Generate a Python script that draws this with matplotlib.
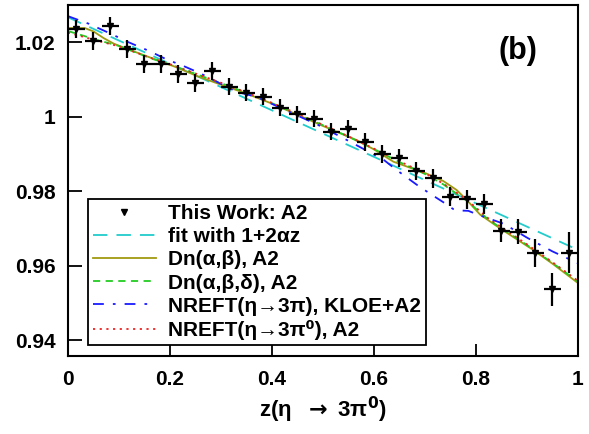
import numpy as np
import matplotlib
matplotlib.use("Agg")
import matplotlib.pyplot as plt

plt.rcParams['font.family'] = ['Liberation Sans', 'DejaVu Sans']
plt.rcParams['font.weight'] = 'bold'
plt.rcParams['mathtext.fontset'] = 'dejavusans'

# measured points (bin centres, 30 bins)
z_data = (np.arange(30) + 0.5) / 30.0
y_data = [1.0235, 1.0203, 1.0244, 1.0181, 1.0142, 1.0141, 1.0115, 1.0090, 1.0123, 1.0080,
          1.0064, 1.0054, 1.0024, 1.0006, 0.9994, 0.9959, 0.9968, 0.9932, 0.9900, 0.9889,
          0.9854, 0.9834, 0.9785, 0.9778, 0.9765, 0.9694, 0.9691, 0.9634, 0.9536, 0.9634]
y_err = [0.0025, 0.0024, 0.0025, 0.0024, 0.0024, 0.0024, 0.0024, 0.0024, 0.0024, 0.0023,
         0.0023, 0.0023, 0.0023, 0.0023, 0.0023, 0.0023, 0.0024, 0.0024, 0.0024, 0.0024,
         0.0024, 0.0025, 0.0025, 0.0026, 0.0027, 0.0030, 0.0033, 0.0037, 0.0045, 0.0055]

# fit with 1+2az
z_fit = [0.0, 1.0]
y_fit = [1.0267, 0.9642]

# Dn(a,b), A2
z_dn = [0.0, 0.033, 0.05, 0.07, 0.09, 0.112, 0.157, 0.21, 0.255, 0.3, 0.35, 0.4, 0.45, 0.5,
        0.566, 0.6, 0.638, 0.703, 0.736, 0.762, 0.782, 0.808, 0.847, 0.912, 0.95, 1.0]
y_dn = [1.0238, 1.0238, 1.0229, 1.0211, 1.0196, 1.0184, 1.0161, 1.0134, 1.0108, 1.0086,
        1.0062, 1.0035, 1.0005, 0.9975, 0.9937, 0.9912, 0.9879, 0.9847, 0.9827, 0.9803,
        0.9776, 0.9737, 0.9700, 0.9642, 0.9605, 0.9553]

# Dn(a,b,d), A2
z_dnd = [0.0, 0.06, 0.1, 0.164, 0.2, 0.25, 0.3, 0.35, 0.4, 0.45, 0.5, 0.55, 0.6, 0.65,
         0.7, 0.736, 0.782, 0.824, 0.85, 0.9, 0.95, 1.0]
y_dnd = [1.0230, 1.0205, 1.0190, 1.0156, 1.0140, 1.0115, 1.0090, 1.0064, 1.0036, 1.0007,
         0.9977, 0.9946, 0.9913, 0.9878, 0.9846, 0.9818, 0.9774, 0.9724, 0.9700, 0.9655,
         0.9607, 0.9557]

# NREFT, KLOE+A2
z_kloe = [0.0, 0.04, 0.09, 0.11, 0.16, 0.19, 0.23, 0.26, 0.33, 0.37, 0.49, 0.55, 0.6, 0.62,
          0.645, 0.685, 0.71, 0.735, 0.755, 0.765, 0.785, 0.805, 0.855, 0.9, 0.92, 0.95,
          0.98, 1.0]
y_kloe = [1.0270, 1.0250, 1.0219, 1.0205, 1.0176, 1.0156, 1.0134, 1.0116, 1.0067, 1.0053,
          0.9978, 0.9935, 0.9898, 0.9883, 0.9856, 0.9816, 0.9793, 0.9771, 0.9752, 0.9748,
          0.9747, 0.9736, 0.9712, 0.9675, 0.9660, 0.9638, 0.9619, 0.9606]

# NREFT(eta->3pi0), A2
z_nref = [0.0, 0.06, 0.1, 0.164, 0.2, 0.25, 0.3, 0.35, 0.4, 0.45, 0.5, 0.55, 0.6, 0.65,
          0.7, 0.736, 0.782, 0.824, 0.85, 0.9, 0.95, 1.0]
y_nref = [1.0226, 1.0203, 1.0189, 1.0157, 1.0141, 1.0116, 1.0091, 1.0065, 1.0037, 1.0008,
          0.9978, 0.9947, 0.9914, 0.9880, 0.9848, 0.9820, 0.9777, 0.9727, 0.9703, 0.9657,
          0.9609, 0.9559]

fig = plt.figure(figsize=(5.89, 4.34), dpi=100)
ax = fig.add_axes([0.1154, 0.1797, 0.8659, 0.8088])

ax.plot(z_fit, y_fit, color='#22cccc', lw=1.3, dashes=(8, 5), label='fit with 1+2αz')
ax.plot(z_dn, y_dn, color='#a09a10', lw=1.3, label='Dn(α,β), A2')
ax.plot(z_dnd, y_dnd, color='#22cc22', lw=1.3, dashes=(4, 3), label='Dn(α,β,δ), A2')
ax.plot(z_kloe, y_kloe, color='#1a1aff', lw=1.3, dashes=(6, 5, 1.5, 5),
        label='NREFT(η→3π), KLOE+A2')
ax.plot(z_nref, y_nref, color='#ee2222', lw=1.3, dashes=(1.2, 2.5),
        label='NREFT(η→3π⁰), A2')
ax.errorbar(z_data, y_data, xerr=1/60, yerr=y_err, fmt='none', ecolor='black',
            elinewidth=1.6, zorder=5)
ax.plot(z_data, y_data, 'kv', ms=4.5, zorder=6, label='This Work: A2')

ax.set_xlim(0, 1)
ax.set_ylim(0.9357, 1.030)
ax.set_xticks([0, 0.2, 0.4, 0.6, 0.8, 1])
ax.set_xticklabels(['0', '0.2', '0.4', '0.6', '0.8', '1'])
ax.set_yticks([0.94, 0.96, 0.98, 1.0, 1.02])
ax.set_yticklabels(['0.94', '0.96', '0.98', '1', '1.02'])
ax.tick_params(direction='in', length=10, width=1.3, labelsize=15, pad=9)
ax.tick_params(axis='x', pad=10, length=9)
for s in ax.spines.values():
    s.set_linewidth(1.5)

ax.set_xlabel(r'z(η  $\rightarrow$ 3π$^{0}$)', fontsize=16, fontweight='bold', labelpad=4)
ax.text(0.882, 0.869, '(b)', transform=ax.transAxes, fontsize=22, fontweight='bold',
        ha='center', va='center')

h, l = ax.get_legend_handles_labels()
order = [5, 0, 1, 2, 3, 4]
leg = ax.legend([h[i] for i in order], [l[i] for i in order], loc='lower left',
                bbox_to_anchor=(0.039, 0.031), fontsize=15, frameon=True, fancybox=False,
                edgecolor='black', framealpha=1, handlelength=3.0, handletextpad=0.6,
                labelspacing=0.2, borderpad=0.25, borderaxespad=0)
leg.get_frame().set_linewidth(1.3)

fig.savefig('out.png', dpi=100)
